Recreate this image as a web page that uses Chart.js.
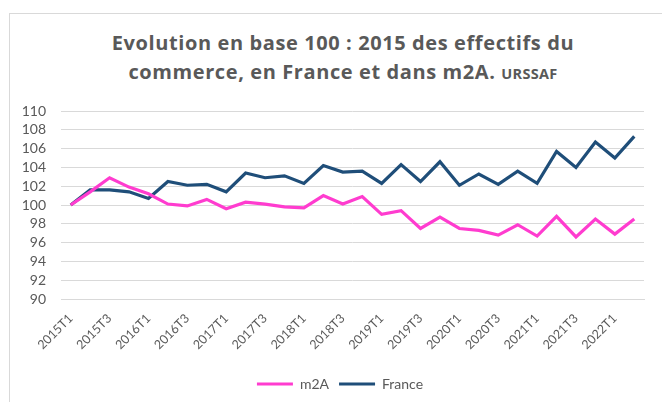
<!DOCTYPE html>
<html>
<head>
<meta charset="utf-8">
<script src="https://cdn.jsdelivr.net/npm/chart.js@4"></script>
<style>
  body { margin: 0; background: #fff; width: 662px; height: 402px; overflow: hidden; position: relative; }
  #frame { position: absolute; left: 9px; top: 13px; width: 660px; height: 400px; border: 1px solid #d9d9d9; }
  #title { position: absolute; left: 0; top: 29px; width: 686px; text-align: center;
    font-family: "Open Sans", Lato, sans-serif; font-weight: bold; font-size: 20px; letter-spacing: 0.6px;
    line-height: 28.5px; color: #595959; }
  #title small { font-size: 14.5px; letter-spacing: 0.3px; }
  #wrap { position: absolute; left: 0; top: 0; width: 662px; height: 402px; }
</style>
</head>
<body>
<div id="frame"></div>
<div id="title">Evolution en base 100 : 2015 des effectifs du<br>commerce, en France et dans m2A. <small>URSSAF</small></div>
<div id="wrap"><canvas id="myChart"></canvas></div>
<script>
var quarters = ['2015T1','2015T2','2015T3','2015T4','2016T1','2016T2','2016T3','2016T4',
  '2017T1','2017T2','2017T3','2017T4','2018T1','2018T2','2018T3','2018T4',
  '2019T1','2019T2','2019T3','2019T4','2020T1','2020T2','2020T3','2020T4',
  '2021T1','2021T2','2021T3','2021T4','2022T1','2022T2']
var m2a = [100.0,101.4,102.9,101.9,101.2,100.1,99.9,100.6,99.6,100.3,100.1,99.8,99.7,101.0,100.1,
  100.9,99.0,99.4,97.5,98.7,97.5,97.3,96.8,97.9,96.7,98.8,96.6,98.5,96.9,98.5]
var france = [100.0,101.6,101.6,101.4,100.7,102.5,102.1,102.2,101.4,103.4,102.9,103.1,102.3,104.2,103.5,
  103.6,102.3,104.3,102.5,104.6,102.1,103.3,102.2,103.6,102.3,105.7,104.0,106.7,105.0,107.3]

var grey = '#595959'
var font = 'Lato'

// the legend sits centred under the whole frame, not under the canvas
var shiftLegend = {
  id: 'shiftLegend',
  afterLayout: function(chart) {
    chart.legend.left += 18
    chart.legend.right += 18
  }
}

const ctx = document.getElementById('myChart')
new Chart(ctx, {
  type: 'line',
  data: {
    labels: quarters,
    datasets: [
      { label: 'm2A', data: m2a, borderColor: '#ff3ccf', backgroundColor: '#ff3ccf',
        borderWidth: 3.2, pointRadius: 0, tension: 0 },
      { label: 'France', data: france, borderColor: '#1f4e79', backgroundColor: '#1f4e79',
        borderWidth: 3.2, pointRadius: 0, tension: 0 }
    ]
  },
  plugins: [shiftLegend],
  options: {
    responsive: true,
    maintainAspectRatio: false,
    animation: false,
    layout: { padding: { left: 0, right: 18, top: 111, bottom: 1 } },
    plugins: {
      title: { display: false },
      tooltip: { enabled: false },
      legend: {
        position: 'bottom',
        labels: {
          color: grey,
          font: { family: font, size: 14 },
          usePointStyle: true,
          pointStyle: 'line',
          pointStyleWidth: 36,
          padding: 10
        }
      }
    },
    scales: {
      x: {
        offset: true,
        afterFit: function(s) { s.height = 68 },
        grid: { display: false, drawTicks: false },
        border: { display: true, color: '#d9d9d9' },
        ticks: {
          autoSkip: false,
          maxRotation: 45,
          minRotation: 45,
          padding: 12,
          color: grey,
          font: { family: font, size: 12.5 },
          callback: function(v, i) { return i % 2 === 0 ? quarters[i] : '' }
        }
      },
      y: {
        min: 90,
        max: 110,
        afterFit: function(s) { s.width = 61 },
        grid: { color: '#d9d9d9', drawTicks: false },
        border: { display: false },
        ticks: { stepSize: 2, autoSkip: false, padding: 15, color: grey, font: { family: font, size: 14 } }
      }
    }
  }
})
</script>
</body>
</html>
